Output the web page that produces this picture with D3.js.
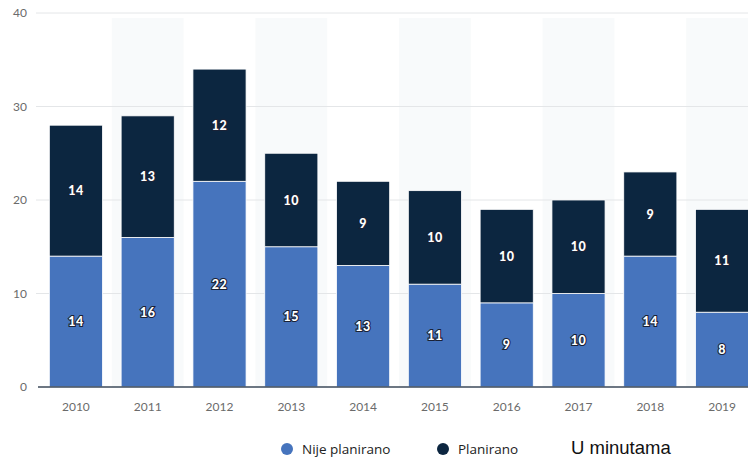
<!DOCTYPE html>
<html>
<head>
<meta charset="utf-8">
<script src="https://cdn.jsdelivr.net/npm/d3@7"></script>
<style>
  html, body { margin: 0; padding: 0; background: #fff; }
  svg { display: block; }
</style>
</head>
<body>
<svg id="chart" width="748" height="458"></svg>
<script>
// Yearly data, in minutes
const years = ["2010","2011","2012","2013","2014","2015","2016","2017","2018","2019"];
const nijePlanirano = [14, 16, 22, 15, 13, 11, 9, 10, 14, 8];
const planirano = [14, 13, 12, 10, 9, 10, 10, 10, 9, 11];
const yTicks = [0, 10, 20, 30, 40];
const seriesNames = ["Nije planirano", "Planirano"];
const unitNote = "U minutama";

const colors = { nije: "#4674bd", plan: "#0c2640" };

const svg = d3.select("#chart");
const x = d3.scaleBand().domain(years).range([40, 758]).paddingInner(0.26).paddingOuter(0.13);
const y = d3.scaleLinear().domain([0, 40]).range([387, 13]);

// alternating column shading
const step = x.step();
svg.append("g").selectAll("rect")
  .data(years.filter((d, i) => i % 2 === 1))
  .join("rect")
  .attr("x", d => x(d) + x.bandwidth() / 2 - step / 2)
  .attr("width", step)
  .attr("y", y(40) + 5)
  .attr("height", y(0) - y(40) - 5)
  .attr("fill", "#f8fafb");

// grid lines
svg.append("g").selectAll("line")
  .data(yTicks.slice(1))
  .join("line")
  .attr("x1", 36).attr("x2", 748)
  .attr("y1", d => y(d)).attr("y2", d => y(d))
  .attr("stroke", "#e4e6e8").attr("stroke-width", 1);

// y tick labels
svg.append("g").selectAll("text")
  .data(yTicks)
  .join("text")
  .attr("x", 27).attr("y", d => y(d) + 4)
  .attr("text-anchor", "end")
  .attr("font-family", "Lato, 'Open Sans', sans-serif")
  .attr("font-size", 12)
  .attr("fill", "#6b6b6b")
  .text(d => d);

// stacked bars
const rows = years.map((yr, i) => ({ year: yr, nije: nijePlanirano[i], plan: planirano[i] }));
const stack = d3.stack().keys(["nije", "plan"])(rows);

const g = svg.append("g");
stack.forEach(layer => {
  g.append("g").selectAll("rect")
    .data(layer)
    .join("rect")
    .attr("x", d => x(d.data.year))
    .attr("width", x.bandwidth())
    .attr("y", d => y(d[1]))
    .attr("height", d => y(d[0]) - y(d[1]))
    .attr("fill", colors[layer.key])
    .attr("stroke", "#ffffff")
    .attr("stroke-width", 0.8);
});

// value labels
stack.forEach(layer => {
  g.append("g").selectAll("text")
    .data(layer)
    .join("text")
    .attr("x", d => x(d.data.year) + x.bandwidth() / 2)
    .attr("y", d => (y(d[0]) + y(d[1])) / 2 + 4.5)
    .attr("text-anchor", "middle")
    .attr("font-family", "Lato, 'Open Sans', sans-serif")
    .attr("font-weight", 900)
    .attr("font-size", 12.5)
    .attr("fill", "#ffffff")
    .attr("stroke", "#1a2236")
    .attr("stroke-width", 2.2)
    .attr("paint-order", "stroke")
    .attr("letter-spacing", 0.5)
    .text(d => d[1] - d[0]);
});

// baseline
svg.append("line")
  .attr("x1", 38).attr("x2", 748)
  .attr("y1", y(0)).attr("y2", y(0))
  .attr("stroke", "#3d4a5a").attr("stroke-width", 1.5);

// x tick labels
svg.append("g").selectAll("text")
  .data(years)
  .join("text")
  .attr("x", d => x(d) + x.bandwidth() / 2)
  .attr("y", 411)
  .attr("text-anchor", "middle")
  .attr("font-family", "Lato, 'Open Sans', sans-serif")
  .attr("font-size", 12)
  .attr("fill", "#6b6b6b")
  .text(d => d);

// legend
const legend = svg.append("g").attr("font-family", "'Open Sans', sans-serif").attr("font-size", 13.5);
const legendItems = [
  { name: seriesNames[0], color: colors.nije, cx: 287 },
  { name: seriesNames[1], color: colors.plan, cx: 443 }
];
legendItems.forEach(it => {
  legend.append("circle").attr("cx", it.cx).attr("cy", 449).attr("r", 6).attr("fill", it.color);
  legend.append("text").attr("x", it.cx + 15).attr("y", 454).attr("fill", "#222").text(it.name);
});
svg.append("text")
  .attr("x", 571).attr("y", 454)
  .attr("font-family", "'Liberation Sans', Arial, sans-serif")
  .attr("font-size", 18.5)
  .attr("fill", "#111")
  .text(unitNote);
</script>
</body>
</html>
